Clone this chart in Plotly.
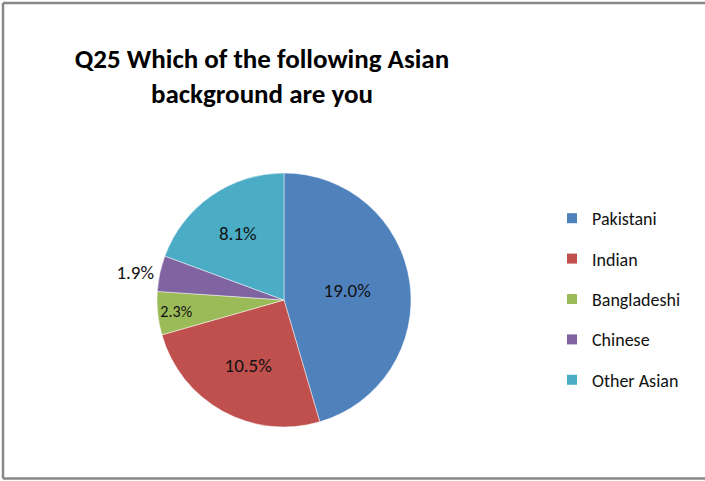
import plotly.graph_objects as go

# Survey responses: share of respondents by Asian background
categories = ["Pakistani", "Indian", "Bangladeshi", "Chinese", "Other Asian"]
shares = [19.0, 10.5, 2.3, 1.9, 8.1]
colors = ["#4F81BD", "#C0504D", "#9BBB59", "#8064A2", "#4BACC6"]
label_positions = ["inside", "inside", "inside", "outside", "inside"]

FONT = "Carlito, Lato, 'Open Sans', sans-serif"
W, H = 705, 481

# pie placement (pixels from the left / top of the page)
cx, cy, r = 284, 300, 127

fig = go.Figure()
fig.add_trace(go.Pie(
    labels=categories,
    values=shares,
    sort=False,
    direction="clockwise",
    rotation=0,
    marker=dict(colors=colors, line=dict(color="rgba(255,255,255,0.6)", width=0.8)),
    texttemplate="%{value:.1f}%",
    textposition=label_positions,
    insidetextorientation="horizontal",
    textfont=dict(family=FONT, size=19, color="#111111"),
    showlegend=False,
    hoverinfo="label+value",
    domain=dict(x=[(cx - r) / W, (cx + r) / W],
                y=[(H - cy - r) / H, (H - cy + r) / H]),
))

# legend entries, one group per category so they can be spaced apart
for name, col in zip(categories, colors):
    fig.add_trace(go.Scatter(
        x=[None], y=[None], mode="markers", name=name, legendgroup=name,
        marker=dict(symbol="square", size=10, color=col),
    ))

# chart frame: left, top and bottom edges (the right edge runs off the page)
frame = dict(color="#878787", width=2.5)
x_left, y_top, y_bottom = 3 / W, 1 - 3 / H, 2.5 / H
shapes = [
    dict(type="line", xref="paper", yref="paper", x0=x_left, x1=x_left, y0=y_bottom, y1=y_top, line=frame),
    dict(type="line", xref="paper", yref="paper", x0=x_left, x1=1, y0=y_top, y1=y_top, line=frame),
    dict(type="line", xref="paper", yref="paper", x0=x_left, x1=1, y0=y_bottom, y1=y_bottom, line=frame),
]

fig.update_layout(
    width=W, height=H,
    margin=dict(l=0, r=0, t=0, b=0),
    paper_bgcolor="white", plot_bgcolor="white",
    xaxis=dict(visible=False), yaxis=dict(visible=False),
    title=dict(
        text="<b>Q25 Which of the following Asian<br>background are you</b>",
        font=dict(family=FONT, size=27, color="#000000"),
        x=262 / W, xanchor="center",
        y=1 - 68 / H, yanchor="top",
    ),
    legend=dict(
        x=552 / W, xanchor="left",
        y=1 - 299 / H, yanchor="middle",
        font=dict(family=FONT, size=18, color="#111111"),
        tracegroupgap=14,
        itemclick=False,
        bgcolor="rgba(0,0,0,0)",
    ),
    shapes=shapes,
)

fig.write_html("out.html")
